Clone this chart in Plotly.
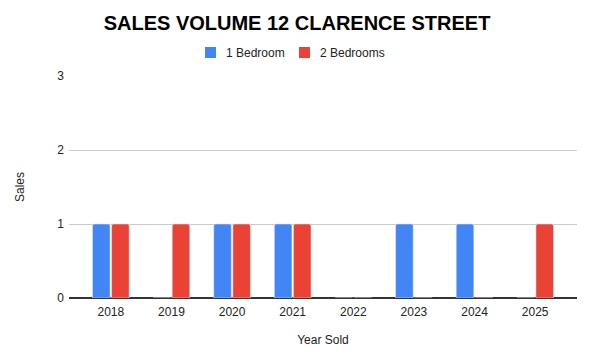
import plotly.graph_objects as go

years = ["2018", "2019", "2020", "2021", "2022", "2023", "2024", "2025"]
one_bed = [1, 0, 1, 1, 0, 1, 1, 0]
two_bed = [1, 1, 1, 1, 0, 0, 0, 1]
series_names = ["1 Bedroom", "2 Bedrooms"]
series_colors = ["#4285F4", "#EA4335"]

fig = go.Figure()
for name, vals, col in zip(series_names, [one_bed, two_bed], series_colors):
    fig.add_trace(go.Bar(x=years, y=vals, name=name, showlegend=False,
                         marker=dict(color=col, cornerradius=2)))

# plot-area geometry in pixels (for placing the manual legend)
L, R, T, B = 69, 577, 76, 298
def px(x):
    return (x - L) / (R - L)
def py(y):
    return (B - y) / (B - T)

legend_sq_x = [205, 299]
legend_txt_x = [224, 318]
shapes, annotations = [], []
for name, col, sx, tx in zip(series_names, series_colors, legend_sq_x, legend_txt_x):
    shapes.append(dict(type="rect", xref="paper", yref="paper",
                       x0=px(sx), x1=px(sx + 11), y0=py(58), y1=py(47),
                       fillcolor=col, line=dict(width=0)))
    annotations.append(dict(text=name, xref="paper", yref="paper", x=px(tx), y=py(52.5),
                            xanchor="left", yanchor="middle", showarrow=False,
                            font=dict(size=12, color="#222222")))

fig.update_layout(
    width=594, height=364,
    margin=dict(l=L, r=594 - R, t=T, b=364 - B, autoexpand=False),
    paper_bgcolor="white", plot_bgcolor="white",
    font=dict(family="Liberation Sans, Arial", size=12, color="#222222"),
    title=dict(text="<b>SALES VOLUME 12 CLARENCE STREET</b>", x=297 / 594, xanchor="center",
               y=1 - 23 / 364, yanchor="middle", yref="container",
               font=dict(size=20, color="#000000")),
    barmode="group", bargap=0.37, bargroupgap=0.08,
    showlegend=False,
    shapes=shapes, annotations=annotations,
    xaxis=dict(range=[-0.69, 7.69], showgrid=False, showline=False, ticks="",
               ticklabelstandoff=5,
               title=dict(text="Year Sold", standoff=17, font=dict(size=12)),
               tickfont=dict(size=12, color="#222222")),
    yaxis=dict(range=[0, 3], dtick=1, showgrid=True, gridcolor="#cccccc", gridwidth=1,
               zeroline=True, zerolinecolor="#333333", zerolinewidth=1.5,
               ticks="", ticklabelstandoff=4,
               title=dict(text="Sales", standoff=30, font=dict(size=12)),
               tickfont=dict(size=12, color="#222222")),
)

fig.write_html("out.html", config={"displayModeBar": False},
               post_script="document.body.style.margin='0';document.body.style.padding='0';")
